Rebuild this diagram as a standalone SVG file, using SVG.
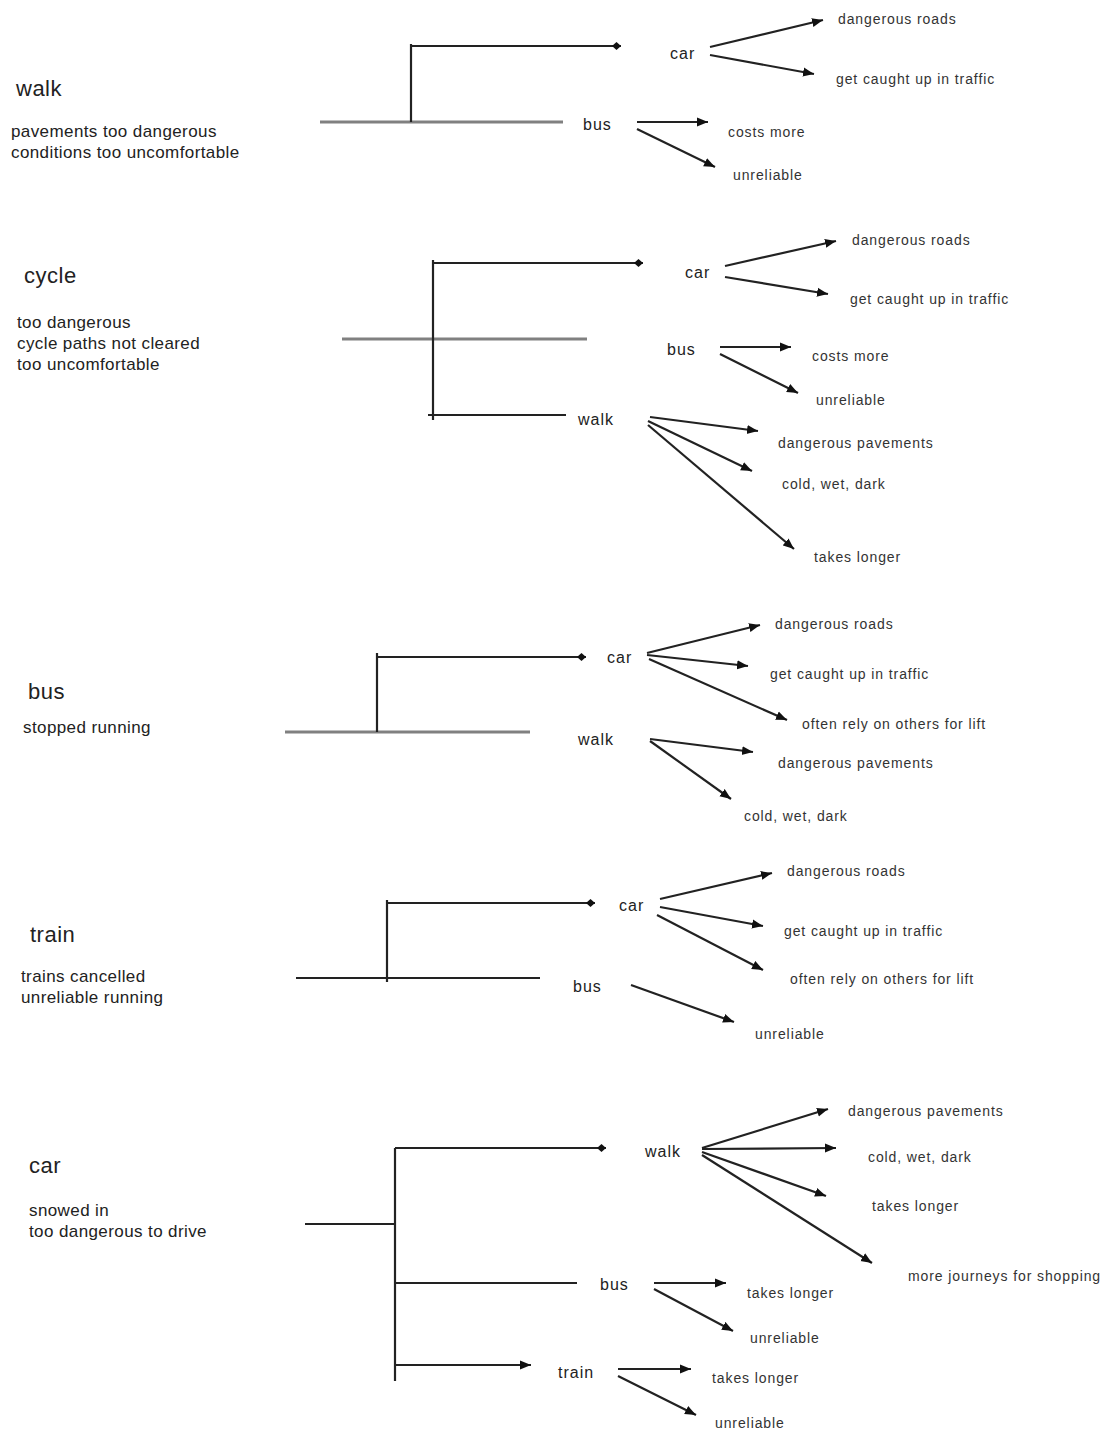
<svg xmlns="http://www.w3.org/2000/svg" width="1112" height="1439" viewBox="0 0 1112 1439">
<style>
text{font-family:"Liberation Sans",Arial,sans-serif;fill:#222}
.title{font-size:22px;letter-spacing:0.5px}
.desc{font-size:17px;letter-spacing:0.4px}
.node{font-size:16px;letter-spacing:1px}
.leaf{font-size:14px;letter-spacing:0.9px;fill:#333}
.ln{stroke:#222;stroke-width:2.2;fill:none}
.gr{stroke:#808080;stroke-width:3;fill:none}
.ar{stroke:#222;stroke-width:2.2;fill:none;marker-end:url(#arrow)}
.dm{stroke:#222;stroke-width:2.2;fill:none;marker-end:url(#dia)}
</style>
<defs>
<marker id="arrow" markerUnits="userSpaceOnUse" markerWidth="12" markerHeight="10" refX="11" refY="5" orient="auto">
<path d="M0,0.5 L11,5 L0,9.5 z" fill="#111"/>
</marker>
<marker id="dia" markerUnits="userSpaceOnUse" markerWidth="11" markerHeight="9" refX="10" refY="4.5" orient="auto">
<path d="M1,4.5 L5.5,0.5 L10,4.5 L5.5,8.5 z" fill="#111"/>
</marker>
</defs>
<rect width="1112" height="1439" fill="#fff"/>

<g id="connectors">
<!-- section 1 walk -->
<line class="gr" x1="320" y1="122" x2="563" y2="122"/>
<line class="ln" x1="411" y1="44" x2="411" y2="122"/>
<line class="dm" x1="411" y1="46" x2="621" y2="46"/>
<line class="ar" x1="710" y1="47" x2="823" y2="20"/>
<line class="ar" x1="710" y1="55" x2="814" y2="74"/>
<line class="ar" x1="637" y1="122" x2="708" y2="122"/>
<line class="ar" x1="637" y1="129" x2="715" y2="167"/>
<!-- section 2 cycle -->
<line class="gr" x1="342" y1="339" x2="587" y2="339"/>
<line class="ln" x1="433" y1="260" x2="433" y2="420"/>
<line class="dm" x1="433" y1="263" x2="643" y2="263"/>
<line class="ln" x1="428" y1="415" x2="566" y2="415"/>
<line class="ar" x1="725" y1="266" x2="836" y2="241"/>
<line class="ar" x1="725" y1="277" x2="828" y2="294"/>
<line class="ar" x1="720" y1="347" x2="791" y2="347"/>
<line class="ar" x1="720" y1="354" x2="798" y2="393"/>
<line class="ar" x1="650" y1="417" x2="758" y2="431"/>
<line class="ar" x1="648" y1="421" x2="752" y2="471"/>
<line class="ar" x1="648" y1="425" x2="794" y2="549"/>
<!-- section 3 bus -->
<line class="gr" x1="285" y1="732" x2="530" y2="732"/>
<line class="ln" x1="377" y1="653" x2="377" y2="732"/>
<line class="dm" x1="377" y1="657" x2="586" y2="657"/>
<line class="ar" x1="647" y1="653" x2="760" y2="625"/>
<line class="ar" x1="647" y1="655" x2="748" y2="666"/>
<line class="ar" x1="649" y1="659" x2="787" y2="720"/>
<line class="ar" x1="650" y1="739" x2="753" y2="752"/>
<line class="ar" x1="650" y1="741" x2="731" y2="799"/>
<!-- section 4 train -->
<line class="ln" x1="296" y1="978" x2="540" y2="978"/>
<line class="ln" x1="387" y1="900" x2="387" y2="982"/>
<line class="dm" x1="387" y1="903" x2="595" y2="903"/>
<line class="ar" x1="660" y1="899" x2="772" y2="873"/>
<line class="ar" x1="660" y1="907" x2="763" y2="926"/>
<line class="ar" x1="657" y1="915" x2="763" y2="970"/>
<line class="ar" x1="631" y1="985" x2="734" y2="1022"/>
<!-- section 5 car -->
<line class="ln" x1="305" y1="1224" x2="396" y2="1224"/>
<line class="ln" x1="395" y1="1148" x2="395" y2="1381"/>
<line class="dm" x1="395" y1="1148" x2="606" y2="1148"/>
<line class="ln" x1="395" y1="1283" x2="577" y2="1283"/>
<line class="ar" x1="395" y1="1365" x2="531" y2="1365"/>
<line class="ar" x1="702" y1="1148" x2="828" y2="1109"/>
<line class="ar" x1="702" y1="1149" x2="836" y2="1148"/>
<line class="ar" x1="702" y1="1152" x2="826" y2="1196"/>
<line class="ar" x1="702" y1="1155" x2="872" y2="1263"/>
<line class="ar" x1="654" y1="1283" x2="726" y2="1283"/>
<line class="ar" x1="654" y1="1289" x2="733" y2="1331"/>
<line class="ar" x1="618" y1="1369" x2="691" y2="1369"/>
<line class="ar" x1="618" y1="1376" x2="696" y2="1415"/>
</g>

<!-- section 1 -->
<g id="walk-title"><text class="title" x="16" y="96">walk</text></g>
<g id="walk-reasons"><text class="desc" x="11" y="137">pavements too dangerous</text><text class="desc" x="11" y="158">conditions too uncomfortable</text></g>
<g id="s1-car"><text class="node" x="670" y="59">car</text></g>
<g id="s1-bus"><text class="node" x="583" y="130">bus</text></g>
<g id="s1-car-roads"><text class="leaf" x="838" y="24">dangerous roads</text></g>
<g id="s1-car-traffic"><text class="leaf" x="836" y="84">get caught up in traffic</text></g>
<g id="s1-bus-costs"><text class="leaf" x="728" y="137">costs more</text></g>
<g id="s1-bus-unreliable"><text class="leaf" x="733" y="180">unreliable</text></g>

<!-- section 2 -->
<g id="cycle-title"><text class="title" x="24" y="283">cycle</text></g>
<g id="cycle-reasons"><text class="desc" x="17" y="328">too dangerous</text><text class="desc" x="17" y="349">cycle paths not cleared</text><text class="desc" x="17" y="370">too uncomfortable</text></g>
<g id="s2-car"><text class="node" x="685" y="278">car</text></g>
<g id="s2-bus"><text class="node" x="667" y="355">bus</text></g>
<g id="s2-walk"><text class="node" x="578" y="425">walk</text></g>
<g id="s2-car-roads"><text class="leaf" x="852" y="245">dangerous roads</text></g>
<g id="s2-car-traffic"><text class="leaf" x="850" y="304">get caught up in traffic</text></g>
<g id="s2-bus-costs"><text class="leaf" x="812" y="361">costs more</text></g>
<g id="s2-bus-unreliable"><text class="leaf" x="816" y="405">unreliable</text></g>
<g id="s2-walk-pavements"><text class="leaf" x="778" y="448">dangerous pavements</text></g>
<g id="s2-walk-cold"><text class="leaf" x="782" y="489">cold, wet, dark</text></g>
<g id="s2-walk-longer"><text class="leaf" x="814" y="562">takes longer</text></g>

<!-- section 3 -->
<g id="bus-title"><text class="title" x="28" y="699">bus</text></g>
<g id="bus-reasons"><text class="desc" x="23" y="733">stopped running</text></g>
<g id="s3-car"><text class="node" x="607" y="663">car</text></g>
<g id="s3-walk"><text class="node" x="578" y="745">walk</text></g>
<g id="s3-car-roads"><text class="leaf" x="775" y="629">dangerous roads</text></g>
<g id="s3-car-traffic"><text class="leaf" x="770" y="679">get caught up in traffic</text></g>
<g id="s3-car-lift"><text class="leaf" x="802" y="729">often rely on others for lift</text></g>
<g id="s3-walk-pavements"><text class="leaf" x="778" y="768">dangerous pavements</text></g>
<g id="s3-walk-cold"><text class="leaf" x="744" y="821">cold, wet, dark</text></g>

<!-- section 4 -->
<g id="train-title"><text class="title" x="30" y="942">train</text></g>
<g id="train-reasons"><text class="desc" x="21" y="982">trains cancelled</text><text class="desc" x="21" y="1003">unreliable running</text></g>
<g id="s4-car"><text class="node" x="619" y="911">car</text></g>
<g id="s4-bus"><text class="node" x="573" y="992">bus</text></g>
<g id="s4-car-roads"><text class="leaf" x="787" y="876">dangerous roads</text></g>
<g id="s4-car-traffic"><text class="leaf" x="784" y="936">get caught up in traffic</text></g>
<g id="s4-car-lift"><text class="leaf" x="790" y="984">often rely on others for lift</text></g>
<g id="s4-bus-unreliable"><text class="leaf" x="755" y="1039">unreliable</text></g>

<!-- section 5 -->
<g id="car-title"><text class="title" x="29" y="1173">car</text></g>
<g id="car-reasons"><text class="desc" x="29" y="1216">snowed in</text><text class="desc" x="29" y="1237">too dangerous to drive</text></g>
<g id="s5-walk"><text class="node" x="645" y="1157">walk</text></g>
<g id="s5-bus"><text class="node" x="600" y="1290">bus</text></g>
<g id="s5-train"><text class="node" x="558" y="1378">train</text></g>
<g id="s5-walk-pavements"><text class="leaf" x="848" y="1116">dangerous pavements</text></g>
<g id="s5-walk-cold"><text class="leaf" x="868" y="1162">cold, wet, dark</text></g>
<g id="s5-walk-longer"><text class="leaf" x="872" y="1211">takes longer</text></g>
<g id="s5-walk-shopping"><text class="leaf" x="908" y="1281">more journeys for shopping</text></g>
<g id="s5-bus-longer"><text class="leaf" x="747" y="1298">takes longer</text></g>
<g id="s5-bus-unreliable"><text class="leaf" x="750" y="1343">unreliable</text></g>
<g id="s5-train-longer"><text class="leaf" x="712" y="1383">takes longer</text></g>
<g id="s5-train-unreliable"><text class="leaf" x="715" y="1428">unreliable</text></g>
</svg>
